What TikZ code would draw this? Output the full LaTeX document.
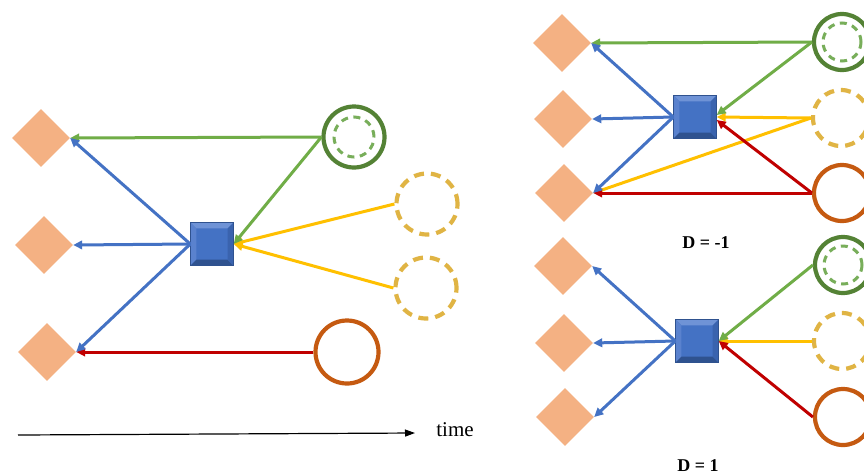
\documentclass[tikz,border=0pt]{standalone}
\usepackage{fontspec}
\setmainfont{Liberation Serif}
\usetikzlibrary{shapes.geometric,arrows.meta,calc}
\definecolor{dia}{HTML}{F4B183}
\definecolor{sqblue}{HTML}{4472C4}
\definecolor{sqlight}{HTML}{6F93D6}
\definecolor{sqleft}{HTML}{5A82CE}
\definecolor{sqdark}{HTML}{2F528F}
\definecolor{sqright}{HTML}{3A63AE}
\definecolor{garr}{HTML}{70AD47}
\definecolor{gcirc}{HTML}{548235}
\definecolor{ginner}{HTML}{78AE5A}
\definecolor{yarr}{HTML}{FFC000}
\definecolor{ycirc}{HTML}{E0B444}
\definecolor{ocirc}{HTML}{C55A11}
\definecolor{rarr}{HTML}{C00000}
\newcommand\bevelbox[1]{%
  \fill[sqlight] (#1.north west) -- (#1.north east) -- ([shift={(-6pt,-6pt)}]#1.north east) -- ([shift={(6pt,-6pt)}]#1.north west) -- cycle;
  \fill[sqleft] (#1.north west) -- ([shift={(6pt,-6pt)}]#1.north west) -- ([shift={(6pt,6pt)}]#1.south west) -- (#1.south west) -- cycle;
  \fill[sqdark] (#1.south west) -- ([shift={(6pt,6pt)}]#1.south west) -- ([shift={(-6pt,6pt)}]#1.south east) -- (#1.south east) -- cycle;
  \fill[sqright] (#1.south east) -- ([shift={(-6pt,6pt)}]#1.south east) -- ([shift={(-6pt,-6pt)}]#1.north east) -- (#1.north east) -- cycle;
  \draw[sqdark, line width=0.8pt] (#1.north west) rectangle (#1.south east);
}
\begin{document}
\begin{tikzpicture}[x=1pt,y=-1pt,
  diam/.style={diamond, fill=dia, minimum width=58pt, minimum height=58pt, inner sep=0pt, aspect=1},
  blk/.style={rectangle, fill=sqblue, minimum size=43pt, inner sep=0pt},
  gcircle/.style={circle, draw=gcirc, line width=4.2pt, minimum size=#1, inner sep=0pt},
  ginnerc/.style={circle, draw=ginner, line width=3pt, dash pattern=on 7pt off 5.5pt, minimum size=#1, inner sep=0pt},
  ycircle/.style={circle, draw=ycirc, line width=4.2pt, dash pattern=on 10pt off 7pt, minimum size=#1, inner sep=0pt},
  ocircle/.style={circle, draw=ocirc, line width=4.2pt, minimum size=#1, inner sep=0pt},
  conn/.style={line width=3pt, -{Triangle[length=9pt,width=8.5pt]}},
  blue/.style={conn, draw=sqblue},
  grn/.style={conn, draw=garr},
  ylw/.style={conn, draw=yarr},
  red/.style={conn, draw=rarr},
  lbl/.style={font=\bfseries\fontsize{18}{22}\selectfont, inner sep=0pt}
]
\clip (0,0) rectangle (864,475);
\fill[white] (0,0) rectangle (864,475);

% ---------- left panel ----------
\node[diam] (Ld1) at (41,138) {};
\node[diam] (Ld2) at (44,245) {};
\node[diam] (Ld3) at (47,352) {};
\node[blk] (Lsq) at (212,244) {};
\bevelbox{Lsq}
\node[gcircle=61pt] (Lg) at (354,137) {};
\node[ginnerc=40pt] (Lgi) at (Lg.center) {};
\node[ycircle=61pt] (Ly1) at (427,204) {};
\node[ycircle=61pt] (Ly2) at (426,288) {};
\node[ocircle=63pt] (Lo) at (347,352) {};

\draw[grn] (Lg.west) -- (Ld1.east);
\draw[ylw] (Ly1.west) -- (Lsq.east);
\draw[ylw] (Ly2.west) -- (Lsq.east);
\draw[grn] (Lg.west) -- (Lsq.east);
\draw[red] (Lo.west) -- (Ld3.east);
\draw[blue] (Lsq.west) -- (Ld1.east);
\draw[blue] (Lsq.west) -- (Ld2.east);
\draw[blue] (Lsq.west) -- (Ld3.east);

\coordinate (t0) at (18,435);
\coordinate (t1) at (415,433);
\draw[line width=1.2pt, -{Triangle[length=10pt,width=7pt]}] (t0) -- (t1);
\node[font=\fontsize{21}{25}\selectfont, inner sep=0pt] (tl) at (455,430) {time};

% ---------- right top (D = -1) ----------
\node[diam] (Ad1) at (562,43) {};
\node[diam] (Ad2) at (563,119) {};
\node[diam] (Ad3) at (564,193) {};
\node[blk] (Asq) at (695,117) {};
\bevelbox{Asq}
\node[gcircle=56pt] (Ag) at (842,42) {};
\node[ginnerc=38pt] (Agi) at (Ag.center) {};
\node[ycircle=56pt] (Ay) at (841,118) {};
\node[ocircle=56pt] (Ao) at (842,193) {};

\draw[grn] (Ag.west) -- (Ad1.east);
\draw[ylw] (Ay.west) -- (Ad3.east);
\draw[red] (Ao.west) -- (Ad3.east);
\draw[ylw] (Ay.west) -- (Asq.east);
\draw[grn] (Ag.west) -- ([yshift=2pt]Asq.east);
\draw[red] (Ao.west) -- ([yshift=-3pt]Asq.east);
\draw[blue] (Asq.west) -- (Ad1.east);
\draw[blue] (Asq.west) -- (Ad2.east);
\draw[blue] (Asq.west) -- (Ad3.east);
\node[lbl] (Al) at (706,243) {D = -1};

% ---------- right bottom (D = 1) ----------
\node[diam] (Bd1) at (563,266) {};
\node[diam] (Bd2) at (564,343) {};
\node[diam] (Bd3) at (565,417) {};
\node[blk] (Bsq) at (697,341) {};
\bevelbox{Bsq}
\node[gcircle=56pt] (Bg) at (843,265) {};
\node[ginnerc=38pt] (Bgi) at (Bg.center) {};
\node[ycircle=56pt] (By) at (842,341) {};
\node[ocircle=56pt] (Bo) at (843,417) {};

\draw[ylw] (By.west) -- (Bsq.east);
\draw[grn] (Bg.west) -- (Bsq.east);
\draw[red] (Bo.west) -- (Bsq.east);
\draw[blue] (Bsq.west) -- (Bd1.east);
\draw[blue] (Bsq.west) -- (Bd2.east);
\draw[blue] (Bsq.west) -- (Bd3.east);
\node[lbl] (Bl) at (698,466) {D = 1};
\end{tikzpicture}
\end{document}
